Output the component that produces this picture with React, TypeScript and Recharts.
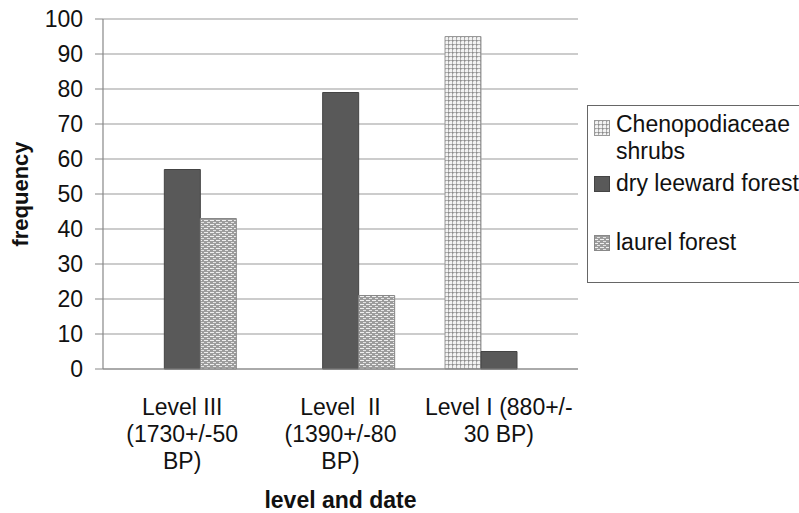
import React from "react";
import { Bar, BarChart, CartesianGrid, Label, XAxis, YAxis } from "recharts";

const categories = ["Level III", "Level II", "Level I"];
const tickLines = [
  ["Level III", "(1730+/-50", "BP)"],
  ["Level\u00a0\u00a0II", "(1390+/-80", "BP)"],
  ["Level I (880+/-", "30 BP)"],
];
const chenopodiaceae = [0, 0, 95];
const dryLeeward = [57, 79, 5];
const laurel = [43, 21, 0];
const yTicks = [0, 10, 20, 30, 40, 50, 60, 70, 80, 90, 100];

const data = categories.map((c, i) => ({
  name: c,
  chen: chenopodiaceae[i],
  dry: dryLeeward[i],
  laurel: laurel[i],
}));

const FONT = "'Liberation Sans', Arial, sans-serif";
const DARK = "#595959";

function Patterns() {
  return (
    <defs>
      <pattern id="chenPat" width="4" height="4" patternUnits="userSpaceOnUse">
        <rect width="4" height="4" fill="#f2f2f2" />
        <rect x="0" y="0" width="4" height="1" fill="#b0b0b0" />
        <rect x="0" y="0" width="1" height="4" fill="#b0b0b0" />
        <rect x="0" y="0" width="1.5" height="1.5" fill="#8a8a8a" />
      </pattern>
      <pattern id="laurelPat" width="6" height="4" patternUnits="userSpaceOnUse">
        <rect width="6" height="4" fill="#9c9c9c" />
        <rect x="0" y="0" width="4" height="1" fill="#f0f0f0" />
        <rect x="3" y="2" width="4" height="1" fill="#e4e4e4" />
      </pattern>
    </defs>
  );
}

function CategoryTick(props: any) {
  const { x, y, payload } = props;
  const idx = categories.indexOf(payload.value);
  const lines = tickLines[idx] || [];
  return (
    <text x={x} y={y} textAnchor="middle" fontSize={23} fill="#111" fontFamily={FONT}>
      {lines.map((l, i) => (
        <tspan key={i} x={x} y={y + 46 + i * 27}>
          {l}
        </tspan>
      ))}
    </text>
  );
}

function Swatch({ fill, stroke }: { fill: string; stroke: string }) {
  return (
    <svg width={16} height={16} style={{ position: "absolute", left: 6, top: 0 }}>
      <Patterns />
      <rect x={0.5} y={0.5} width={15} height={15} fill={fill} stroke={stroke} />
    </svg>
  );
}

function LegendBox() {
  const item = (top: number, fill: string, stroke: string, label: React.ReactNode, swTop: number) => (
    <div style={{ position: "absolute", left: 0, top }}>
      <div style={{ position: "absolute", left: 0, top: swTop }}>
        <Swatch fill={fill} stroke={stroke} />
      </div>
      <div style={{ position: "absolute", left: 28, top: 0, whiteSpace: "nowrap", lineHeight: "27px" }}>
        {label}
      </div>
    </div>
  );
  return (
    <div
      style={{
        position: "absolute",
        left: 587,
        top: 105,
        width: 240,
        height: 176,
        border: "1.5px solid #666",
        background: "#fff",
        fontFamily: FONT,
        fontSize: 23,
        color: "#111",
      }}
    >
      {item(5, "url(#chenPat)", "#999", <>Chenopodiaceae<br />shrubs</>, 9)}
      {item(64, DARK, "#444", "dry leeward forest", 6)}
      {item(123, "url(#laurelPat)", "#888", "laurel forest", 6)}
    </div>
  );
}

export default function App() {
  return (
    <div style={{ position: "absolute", left: 0, top: 0, width: 799, height: 513, overflow: "hidden", background: "#fff" }}>
      <BarChart
        width={799}
        height={513}
        data={data}
        margin={{ top: 19, right: 221, left: 0, bottom: 0 }}
        barCategoryGap="16%"
        barGap={0}
      >
        <Patterns />
        <CartesianGrid vertical={false} stroke="#9a9a9a" strokeWidth={1.2} />
        <XAxis
          xAxisId="edges"
          type="number"
          domain={[0, 3]}
          ticks={[0, 1, 2, 3]}
          tick={false}
          axisLine={false}
          tickLine={{ stroke: "#888" }}
          tickSize={6}
          height={0}
        />
        <XAxis
          dataKey="name"
          tick={<CategoryTick />}
          tickLine={false}
          tickSize={0}
          tickMargin={0}
          axisLine={{ stroke: "#888", strokeWidth: 1.2 }}
          height={144}
          interval={0}
        >
          <Label
            value="level and date"
            position="insideBottom"
            offset={5}
            style={{ fontFamily: FONT, fontSize: 23, fontWeight: "bold", fill: "#111" }}
          />
        </XAxis>
        <YAxis
          domain={[0, 100]}
          ticks={yTicks}
          width={103}
          tickSize={8}
          tickMargin={12}
          axisLine={{ stroke: "#888", strokeWidth: 1.2 }}
          tickLine={{ stroke: "#888" }}
          tick={{ fontSize: 23, fill: "#111", fontFamily: FONT }}
          interval={0}
        >
          <Label
            value="frequency"
            angle={-90}
            position="insideLeft"
            offset={20}
            style={{ fontFamily: FONT, fontSize: 22, fontWeight: "bold", fill: "#111", textAnchor: "middle" }}
          />
        </YAxis>
        <Bar dataKey="chen" fill="url(#chenPat)" stroke="#999" strokeWidth={1} isAnimationActive={false} />
        <Bar dataKey="dry" fill={DARK} stroke="#444" strokeWidth={1} isAnimationActive={false} />
        <Bar dataKey="laurel" fill="url(#laurelPat)" stroke="#888" strokeWidth={1} isAnimationActive={false} />
      </BarChart>
      <LegendBox />
    </div>
  );
}
